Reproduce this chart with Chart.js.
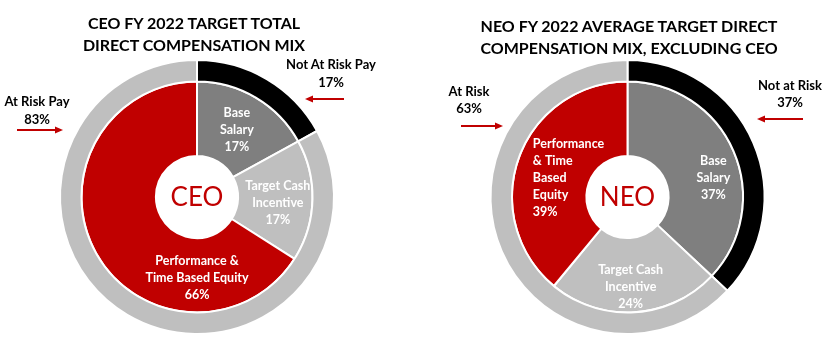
<!DOCTYPE html>
<html>
<head>
<meta charset="utf-8">
<title>FY 2022 Target Direct Compensation Mix</title>
<script src="https://cdn.jsdelivr.net/npm/chart.js@4.4.1/dist/chart.umd.min.js"></script>
<style>
  html, body { margin: 0; padding: 0; background: #fff; }
  #wrap { position: relative; width: 839px; height: 341px; overflow: hidden; font-family: Lato, "Open Sans", sans-serif; }
  canvas { position: absolute; top: 0; }
  .txt { position: absolute; transform: translate(-50%, -50%); text-align: center; white-space: nowrap; color: #000; font-weight: 700; }
  .title { font-size: 16px; line-height: 21.5px; }
  .side { font-size: 13px; line-height: 17.5px; }
</style>
</head>
<body>
<div id="wrap">
  <canvas id="ceoChart" width="420" height="341" style="left:0"></canvas>
  <canvas id="neoChart" width="419" height="341" style="left:420px"></canvas>

  <div class="txt title" style="left:194px;top:33px">CEO FY 2022 TARGET TOTAL<br>DIRECT COMPENSATION MIX</div>
  <div class="txt title" style="left:629px;top:36px">NEO FY 2022 AVERAGE TARGET DIRECT<br>COMPENSATION MIX, EXCLUDING CEO</div>

  <div class="txt side" style="left:37px;top:110px">At Risk Pay<br>83%</div>
  <div class="txt side" style="left:331px;top:73px">Not At Risk Pay<br>17%</div>
  <div class="txt side" style="left:469px;top:99.5px">At Risk<br>63%</div>
  <div class="txt side" style="left:790px;top:93.5px">Not at Risk<br>37%</div>
</div>

<script>
// ---- data ----
const mixCategories = ["Base Salary", "Target Cash Incentive", "Performance & Time Based Equity"];
const riskCategories = ["Not At Risk Pay", "At Risk Pay"];

const ceoMixValues = [17, 17, 66];
const ceoRiskValues = [17, 83];

const neoMixValues = [37, 24, 39];
const neoRiskValues = [37, 63];

// slice label wording (percent is appended from the values)
const ceoMixLines = [["Base", "Salary"], ["Target Cash", "Incentive"], ["Performance &", "Time Based Equity"]];
const neoMixLines = [["Base", "Salary"], ["Target Cash", "Incentive"], ["Performance", "& Time", "Based", "Equity"]];

// ---- styles ----
const RED = "#C00000";
const mixColors = ["#7F7F7F", "#BFBFBF", RED];
const riskColors = ["#000000", "#BFBFBF"];

// where a slice label sits when not at the arc's centre (deg clockwise from 12 o'clock)
const ceoLabelPlace = [null, { deg: 94, r: 81 }, { deg: 180, r: 81 }];
const neoLabelPlace = [{ deg: 77.5, r: 88 }, { deg: 178, r: 90 }, { deg: 288, r: 62, align: "left" }];

const dataLabels = {
  id: "dataLabels",
  afterDatasetsDraw(chart, args, opts) {
    const ctx = chart.ctx;
    const meta = chart.getDatasetMeta(1);
    const values = chart.data.datasets[1].data;
    ctx.save();
    ctx.fillStyle = "#fff";
    ctx.font = "bold 12.5px Lato, 'Open Sans', sans-serif";
    ctx.textBaseline = "middle";
    const lh = 17;
    meta.data.forEach((arc, i) => {
      const lines = opts.lines[i].concat([values[i] + "%"]);
      const place = opts.place[i];
      let px, py;
      if (place) {
        const a = (place.deg - 90) * Math.PI / 180;
        px = arc.x + place.r * Math.cos(a);
        py = arc.y + place.r * Math.sin(a);
      } else {
        const c = arc.getCenterPoint();
        px = c.x; py = c.y;
      }
      let startX = px;
      if (place && place.align === "left") {
        const w = Math.max(...lines.map(l => ctx.measureText(l).width));
        ctx.textAlign = "left";
        startX = px - w / 2;
      } else {
        ctx.textAlign = "center";
      }
      const top = py - (lines.length - 1) * lh / 2;
      lines.forEach((l, k) => ctx.fillText(l, startX, top + k * lh));
    });

    // centre badge
    const arc0 = meta.data[0];
    ctx.fillStyle = RED;
    ctx.font = "26px Lato, 'Open Sans', sans-serif";
    ctx.textAlign = "center";
    ctx.fillText(opts.center, arc0.x, arc0.y + 1);

    // callout arrows
    ctx.strokeStyle = RED;
    ctx.fillStyle = RED;
    ctx.lineWidth = 2;
    opts.arrows.forEach(([x0, y, x1]) => {
      const dir = Math.sign(x1 - x0);
      ctx.beginPath();
      ctx.moveTo(x0, y);
      ctx.lineTo(x1 - dir * 6, y);
      ctx.stroke();
      ctx.beginPath();
      ctx.moveTo(x1, y);
      ctx.lineTo(x1 - dir * 8, y - 3.5);
      ctx.lineTo(x1 - dir * 8, y + 3.5);
      ctx.closePath();
      ctx.fill();
    });
    ctx.restore();
  }
};

function makeDonut(id, riskValues, mixValues, lines, place, center, arrows, padding) {
  return new Chart(document.getElementById(id), {
    type: "doughnut",
    data: {
      labels: mixCategories,
      datasets: [
        {
          label: riskCategories.join(" / "),
          data: riskValues,
          backgroundColor: riskColors,
          borderColor: "#fff",
          borderWidth: 2,
          weight: 21.5
        },
        {
          label: "Mix",
          data: mixValues,
          backgroundColor: mixColors,
          borderColor: "#fff",
          borderWidth: 2,
          weight: 74.5
        }
      ]
    },
    options: {
      responsive: false,
      animation: false,
      events: [],
      cutout: "30%",
      hoverOffset: 0,
      layout: { padding },
      plugins: {
        legend: { display: false },
        tooltip: { enabled: false },
        dataLabels: { lines, place, center, arrows }
      }
    },
    plugins: [dataLabels]
  });
}

makeDonut("ceoChart", ceoRiskValues, ceoMixValues, ceoMixLines, ceoLabelPlace, "CEO",
  [[17, 130, 63], [344, 99, 305]],
  { left: 59, top: 59, right: 85, bottom: 6 });

makeDonut("neoChart", neoRiskValues, neoMixValues, neoMixLines, neoLabelPlace, "NEO",
  [[41, 126, 83], [383, 119, 337]],
  { left: 69.5, top: 59, right: 73.5, bottom: 6 });
</script>
</body>
</html>
